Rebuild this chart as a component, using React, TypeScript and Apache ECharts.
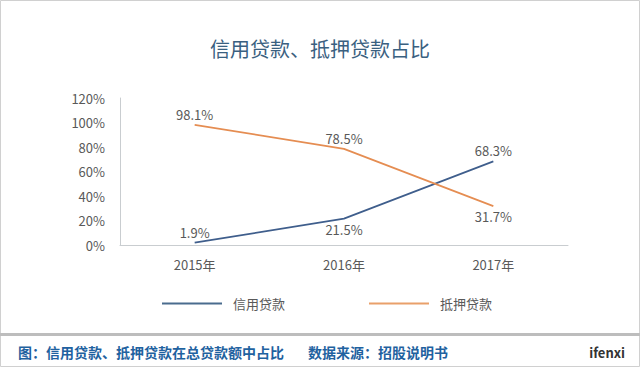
import React, { useEffect, useRef } from "react";
import * as echarts from "echarts";

const categories = ["2015年", "2016年", "2017年"];
const creditLoan = [1.9, 21.5, 68.3];
const mortgageLoan = [98.1, 78.5, 31.7];
const creditLabelPos = ["top", "bottom", "top"];
const mortgageLabelPos = ["top", "top", "bottom"];
const seriesNames = ["信用贷款", "抵押贷款"];
const titleText = "信用贷款、抵押贷款占比";
const footerLeft = "图：信用贷款、抵押贷款在总贷款额中占比";
const footerSource = "数据来源：招股说明书";
const brand = "ifenxi";

const FONT = "'Noto Sans CJK SC', 'Noto Sans', sans-serif";
const BLUE = "#3F5E8C";
const ORANGE = "#E58D52";
const GRAY_TEXT = "#595959";

export default function App() {
  const ref = useRef<HTMLDivElement>(null);
  useEffect(() => {
    if (!ref.current) return;
    const chart = echarts.init(ref.current, undefined, { renderer: "svg" });
    const mk = (vals: number[], pos: string[]) =>
      vals.map((v, i) => ({ value: v, label: { show: true, position: pos[i] } }));
    const labelCfg = {
      show: true,
      formatter: (p: any) => Number(p.value).toFixed(1) + "%",
      fontSize: 13,
      color: GRAY_TEXT,
      distance: 4,
      fontFamily: FONT,
    };
    chart.setOption({
      animation: false,
      backgroundColor: "#ffffff",
      textStyle: { fontFamily: FONT },
      title: {
        text: titleText,
        left: "center",
        top: 33,
        textStyle: { fontSize: 20, fontWeight: "normal", color: "#3A6080", fontFamily: FONT },
      },
      grid: { left: 120, right: 72, top: 98, bottom: 122, containLabel: false },
      legend: {
        left: 157,
        top: 292,
        icon: "rect",
        itemWidth: 60,
        itemHeight: 2,
        itemGap: 84,
        data: [
          { name: seriesNames[0], itemStyle: { color: "#4A6C8E" } },
          { name: seriesNames[1], itemStyle: { color: "#E9A06A" } },
        ],
        textStyle: { fontSize: 13, color: GRAY_TEXT, fontFamily: FONT, padding: [0, 0, 0, 6] },
      },
      xAxis: {
        type: "category",
        data: categories,
        boundaryGap: true,
        axisLine: { lineStyle: { color: "#C9CDD0", width: 1 } },
        axisTick: { show: false },
        axisLabel: { fontSize: 13, color: GRAY_TEXT, margin: 13, fontFamily: FONT },
        splitLine: { show: false },
      },
      yAxis: {
        type: "value",
        min: 0,
        max: 120,
        interval: 20,
        axisLine: { show: true, lineStyle: { color: "#C9CDD0", width: 1 } },
        axisTick: { show: false },
        splitLine: { show: false },
        axisLabel: { fontSize: 13, color: GRAY_TEXT, margin: 15, formatter: "{value}%", fontFamily: FONT },
      },
      series: [
        {
          name: seriesNames[0],
          type: "line",
          data: mk(creditLoan, creditLabelPos),
          symbol: "circle",
          symbolSize: 0,
          showSymbol: true,
          lineStyle: { color: BLUE, width: 1.7 },
          itemStyle: { color: BLUE },
          label: labelCfg,
        },
        {
          name: seriesNames[1],
          type: "line",
          data: mk(mortgageLoan, mortgageLabelPos),
          symbol: "circle",
          symbolSize: 0,
          showSymbol: true,
          lineStyle: { color: ORANGE, width: 1.7 },
          itemStyle: { color: ORANGE },
          label: labelCfg,
        },
      ],
      graphic: [
        {
          type: "rect",
          shape: { x: 0.5, y: 0.5, width: 639, height: 366 },
          style: { fill: "none", stroke: "#D0D0D0", lineWidth: 1 },
          silent: true,
        },
        {
          type: "rect",
          shape: { x: 0, y: 333, width: 640, height: 3 },
          style: { fill: "#BDBDBD" },
          silent: true,
        },
        {
          type: "text",
          x: 18,
          y: 352,
          style: {
            text: footerLeft,
            fill: "#1F62A0",
            font: `bold 14px ${FONT}`,
            textVerticalAlign: "middle",
          },
        },
        {
          type: "text",
          x: 308,
          y: 352,
          style: {
            text: footerSource,
            fill: "#1F62A0",
            font: `bold 14px ${FONT}`,
            textVerticalAlign: "middle",
          },
        },
        {
          type: "text",
          x: 625,
          y: 352,
          style: {
            text: brand,
            fill: "#333333",
            font: `bold 13px ${FONT}`,
            textAlign: "right",
            textVerticalAlign: "middle",
          },
        },
      ],
    });
    return () => chart.dispose();
  }, []);
  return (
    <div
      ref={ref}
      style={{ position: "absolute", left: 0, top: 0, width: 640, height: 367 }}
    />
  );
}
